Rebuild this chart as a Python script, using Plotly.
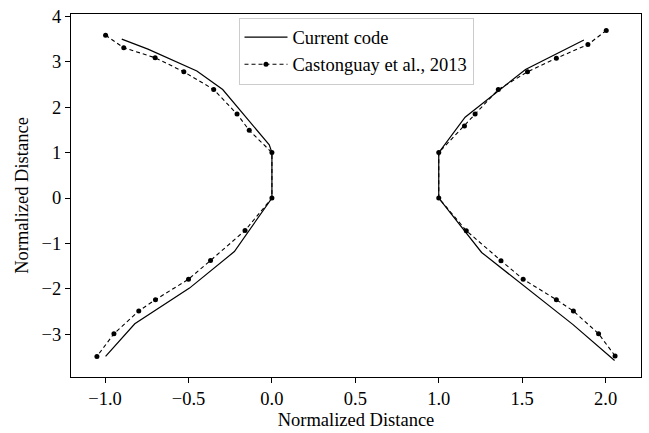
import plotly.graph_objects as go

# "Current code" (solid line), left and right branches
cur_left_x = [-0.90, -0.743, -0.45, -0.295, -0.016, 0.0, 0.0, -0.225, -0.494, -0.822, -0.997]
cur_left_y = [3.50, 3.28, 2.80, 2.39, 1.17, 1.0, 0.0, -1.18, -1.985, -2.77, -3.49]
cur_right_x = [1.87, 1.52, 1.158, 1.0, 1.0, 1.257, 1.805, 2.054]
cur_right_y = [3.48, 2.83, 1.78, 1.0, 0.0, -1.20, -2.79, -3.58]

# "Castonguay et al., 2013" (dashed with dots)
ref_left_x = [-0.997, -0.888, -0.70, -0.528, -0.349, -0.209, -0.136, 0.0, 0.0,
              -0.161, -0.368, -0.50, -0.698, -0.798, -0.947, -1.049]
ref_left_y = [3.585, 3.31, 3.09, 2.78, 2.39, 1.85, 1.49, 1.0, 0.0,
              -0.716, -1.376, -1.79, -2.24, -2.49, -2.99, -3.49]
ref_right_x = [2.004, 1.894, 1.705, 1.532, 1.357, 1.218, 1.154, 1.0, 1.0,
               1.165, 1.373, 1.506, 1.705, 1.807, 1.958, 2.057]
ref_right_y = [3.69, 3.38, 3.08, 2.78, 2.39, 1.85, 1.585, 1.0, 0.0,
               -0.72, -1.38, -1.79, -2.24, -2.49, -2.99, -3.48]

x_ticks = [-1.0, -0.5, 0.0, 0.5, 1.0, 1.5, 2.0]
y_ticks = [-3, -2, -1, 0, 1, 2, 3, 4]
x_label = "Normalized Distance"
y_label = "Normalized Distance"
names = ["Current code", "Castonguay et al., 2013"]

FONT = "Liberation Serif"
FS = 18.5

cur_x = cur_left_x + [None] + cur_right_x
cur_y = cur_left_y + [None] + cur_right_y
ref_x = ref_left_x + [None] + ref_right_x
ref_y = ref_left_y + [None] + ref_right_y

fig = go.Figure()
fig.add_trace(go.Scatter(x=cur_x, y=cur_y, mode="lines", name=names[0],
                         line=dict(color="black", width=1.2),
                         legendgroup="a", connectgaps=False))
fig.add_trace(go.Scatter(x=ref_x, y=ref_y, mode="lines+markers", name=names[1],
                         line=dict(color="black", width=1.1, dash="4px,3px"),
                         marker=dict(color="black", size=5),
                         legendgroup="b", connectgaps=False))

allx = [v for v in cur_x + ref_x if v is not None]
ally = [v for v in cur_y + ref_y if v is not None]
xmin, xmax = min(allx), max(allx)
ymin, ymax = min(ally), max(ally)
px = 0.05 * (xmax - xmin)
py = 0.05 * (ymax - ymin)

axis_common = dict(showline=True, linecolor="black", linewidth=1, mirror=True,
                   ticks="outside", ticklen=5, tickwidth=1, tickcolor="black",
                   showgrid=False, zeroline=False,
                   tickfont=dict(family=FONT, size=FS, color="black"))

fig.update_xaxes(range=[xmin - px, xmax + px], tickvals=x_ticks,
                 ticktext=[f"{v:.1f}".replace("-", "\u2212") for v in x_ticks],
                 title=dict(text=x_label, font=dict(family=FONT, size=FS, color="black"), standoff=4),
                 **axis_common)
fig.update_yaxes(range=[ymin - py, ymax + py], tickvals=y_ticks,
                 ticktext=[str(v).replace("-", "\u2212") for v in y_ticks],
                 title=dict(text=y_label, font=dict(family=FONT, size=FS, color="black"), standoff=8),
                 **axis_common)

fig.update_layout(
    width=649, height=433,
    margin=dict(l=71, r=7, t=10, b=53),
    paper_bgcolor="white", plot_bgcolor="white",
    font=dict(family=FONT, size=FS, color="black"),
    legend=dict(x=0.5, xanchor="center", y=0.99, yanchor="top",
                bgcolor="rgba(255,255,255,0.8)", bordercolor="#cccccc", borderwidth=1,
                font=dict(family=FONT, size=FS, color="black"),
                traceorder="grouped", tracegroupgap=0, itemwidth=43),
    showlegend=True,
)

fig.write_html("out.html")
